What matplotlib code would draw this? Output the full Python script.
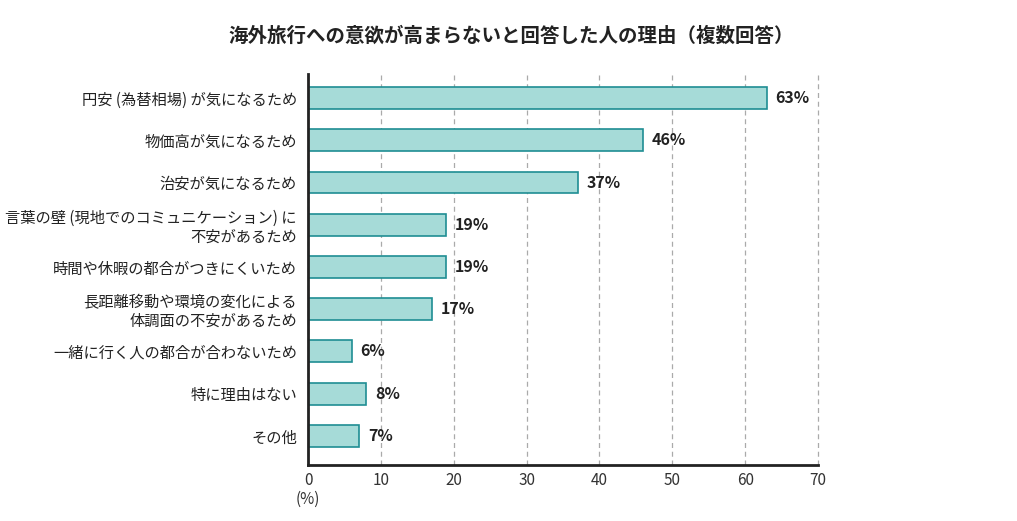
import numpy as np
import matplotlib
matplotlib.use('Agg')
from matplotlib import pyplot as plt

plt.rcParams['font.family'] = ['Noto Sans CJK JP', 'DejaVu Sans']

# 回答データ
titulo = '海外旅行への意欲が高まらないと回答した人の理由（複数回答）'
razones = [
    '円安 (為替相場) が気になるため',
    '物価高が気になるため',
    '治安が気になるため',
    '言葉の壁 (現地でのコミュニケーション) に\n不安があるため',
    '時間や休暇の都合がつきにくいため',
    '長距離移動や環境の変化による\n体調面の不安があるため',
    '一緒に行く人の都合が合わないため',
    '特に理由はない',
    'その他',
]
valores = [63, 46, 37, 19, 19, 17, 6, 8, 7]
ticks_x = [0, 10, 20, 30, 40, 50, 60, 70]

fig = plt.figure(figsize=(10.17, 5.21), dpi=100)
ax = fig.add_axes([0.3029, 0.1075, 0.5014, 0.7505])

y = np.arange(len(valores))
ax.barh(y, valores, height=0.52, color='#a6dbd8', edgecolor='#1f8e93', linewidth=1.2, zorder=3)

for yi, v in zip(y, valores):
    ax.text(v + 1.2, yi, '%d%%' % v, va='center', ha='left',
            fontsize=11.5, fontweight='bold', color='#222222')

ax.set_ylim(len(valores) - 1 + 0.69, -0.57)
ax.set_xlim(0, 70)
ax.set_xticks(ticks_x)
ax.set_xticklabels([str(t) for t in ticks_x], fontsize=11, color='#333333')
ax.set_yticks(y)
ax.set_yticklabels(razones, fontsize=11, color='#222222', linespacing=1.15)
ax.tick_params(axis='both', length=0, pad=8)
ax.tick_params(axis='x', pad=5)

ax.grid(axis='x', linestyle=(0, (4, 3)), color='#aaaaaa', linewidth=0.9, zorder=0)
for gl in ax.get_xgridlines():
    gl.set_clip_on(False)
for s in ['top', 'right']:
    ax.spines[s].set_visible(False)
for s in ['left', 'bottom']:
    ax.spines[s].set_linewidth(2)
    ax.spines[s].set_color('#222222')
    ax.spines[s].set_zorder(4)

fig.text(308 / 1017, 1 - 499 / 521, '(%)', ha='center', va='center', fontsize=11, color='#333333')
fig.text(0.503, 1 - 36 / 521, titulo, ha='center', va='center', fontsize=14, fontweight='bold', color='#222222')

fig.savefig('out.png', dpi=100)
